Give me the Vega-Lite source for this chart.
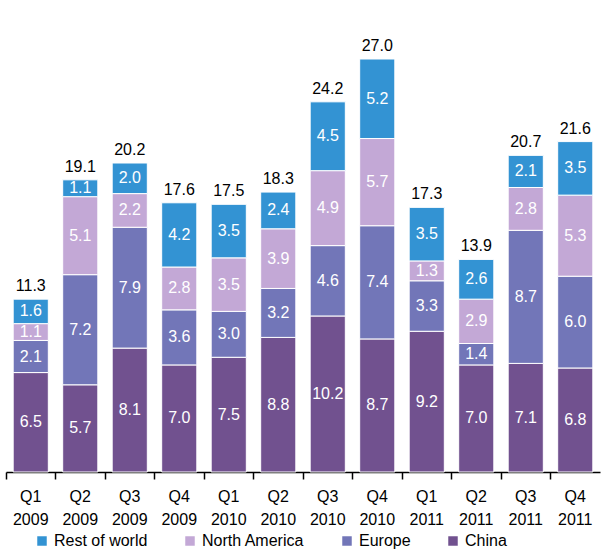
{
  "$schema": "https://vega.github.io/schema/vega-lite/v6.json",
  "width": 594,
  "height": 413,
  "autosize": {"type": "none"},
  "padding": {"left": 6, "top": 59, "right": 12, "bottom": 85},
  "background": "white",
  "config": {
    "view": {"stroke": null},
    "font": "Liberation Sans",
    "text": {"font": "Liberation Sans"}
  },
  "data": {
    "values": [
      {"q": "Q1 2009", "region": "China", "v": 6.5}, {"q": "Q1 2009", "region": "Europe", "v": 2.1}, {"q": "Q1 2009", "region": "North America", "v": 1.1}, {"q": "Q1 2009", "region": "Rest of world", "v": 1.6},
      {"q": "Q2 2009", "region": "China", "v": 5.7}, {"q": "Q2 2009", "region": "Europe", "v": 7.2}, {"q": "Q2 2009", "region": "North America", "v": 5.1}, {"q": "Q2 2009", "region": "Rest of world", "v": 1.1},
      {"q": "Q3 2009", "region": "China", "v": 8.1}, {"q": "Q3 2009", "region": "Europe", "v": 7.9}, {"q": "Q3 2009", "region": "North America", "v": 2.2}, {"q": "Q3 2009", "region": "Rest of world", "v": 2.0},
      {"q": "Q4 2009", "region": "China", "v": 7.0}, {"q": "Q4 2009", "region": "Europe", "v": 3.6}, {"q": "Q4 2009", "region": "North America", "v": 2.8}, {"q": "Q4 2009", "region": "Rest of world", "v": 4.2},
      {"q": "Q1 2010", "region": "China", "v": 7.5}, {"q": "Q1 2010", "region": "Europe", "v": 3.0}, {"q": "Q1 2010", "region": "North America", "v": 3.5}, {"q": "Q1 2010", "region": "Rest of world", "v": 3.5},
      {"q": "Q2 2010", "region": "China", "v": 8.8}, {"q": "Q2 2010", "region": "Europe", "v": 3.2}, {"q": "Q2 2010", "region": "North America", "v": 3.9}, {"q": "Q2 2010", "region": "Rest of world", "v": 2.4},
      {"q": "Q3 2010", "region": "China", "v": 10.2}, {"q": "Q3 2010", "region": "Europe", "v": 4.6}, {"q": "Q3 2010", "region": "North America", "v": 4.9}, {"q": "Q3 2010", "region": "Rest of world", "v": 4.5},
      {"q": "Q4 2010", "region": "China", "v": 8.7}, {"q": "Q4 2010", "region": "Europe", "v": 7.4}, {"q": "Q4 2010", "region": "North America", "v": 5.7}, {"q": "Q4 2010", "region": "Rest of world", "v": 5.2},
      {"q": "Q1 2011", "region": "China", "v": 9.2}, {"q": "Q1 2011", "region": "Europe", "v": 3.3}, {"q": "Q1 2011", "region": "North America", "v": 1.3}, {"q": "Q1 2011", "region": "Rest of world", "v": 3.5},
      {"q": "Q2 2011", "region": "China", "v": 7.0}, {"q": "Q2 2011", "region": "Europe", "v": 1.4}, {"q": "Q2 2011", "region": "North America", "v": 2.9}, {"q": "Q2 2011", "region": "Rest of world", "v": 2.6},
      {"q": "Q3 2011", "region": "China", "v": 7.1}, {"q": "Q3 2011", "region": "Europe", "v": 8.7}, {"q": "Q3 2011", "region": "North America", "v": 2.8}, {"q": "Q3 2011", "region": "Rest of world", "v": 2.1},
      {"q": "Q4 2011", "region": "China", "v": 6.8}, {"q": "Q4 2011", "region": "Europe", "v": 6.0}, {"q": "Q4 2011", "region": "North America", "v": 5.3}, {"q": "Q4 2011", "region": "Rest of world", "v": 3.5}
    ]
  },
  "encoding": {
    "x": {
      "field": "q",
      "type": "nominal",
      "sort": null,
      "scale": {"paddingInner": 0, "paddingOuter": 0},
      "axis": {
        "title": null,
        "labelAngle": 0,
        "labelExpr": "split(datum.label, ' ')",
        "labelFontSize": 16,
        "labelColor": "black",
        "labelFont": "Liberation Sans",
        "labelLineHeight": 23,
        "labelPadding": 9,
        "bandPosition": 0,
        "tickSize": 7,
        "tickColor": "black",
        "tickWidth": 1.5,
        "domainColor": "black",
        "domainWidth": 1.5,
        "grid": false
      }
    }
  },
  "layer": [
    {
      "transform": [
        {"stack": "v", "groupby": ["q"], "sort": [{"field": "region", "order": "ascending"}], "as": ["v0", "v1"]},
        {"calculate": "(datum.v0 + datum.v1) / 2", "as": "mid"}
      ],
      "layer": [
        {
          "mark": {"type": "bar", "width": {"band": 0.71}, "stroke": "white", "strokeWidth": 1},
          "encoding": {
            "y": {"field": "v0", "type": "quantitative", "scale": {"domain": [0, 27], "nice": false, "zero": true}, "axis": null},
            "y2": {"field": "v1"},
            "color": {
              "field": "region",
              "type": "nominal",
              "scale": {
                "domain": ["Rest of world", "North America", "Europe", "China"],
                "range": ["#3393D3", "#C3A8D6", "#7276B8", "#71518F"]
              },
              "legend": {
                "title": null,
                "orient": "none",
                "direction": "horizontal",
                "legendX": 28,
                "legendY": 474,
                "symbolType": "square",
                "symbolSize": 90,
                "symbolStrokeWidth": 0,
                "labelFontSize": 16,
                "labelFont": "Liberation Sans",
                "labelColor": "black",
                "labelOffset": 4,
                "columnPadding": 34
              }
            }
          }
        },
        {
          "mark": {"type": "text", "color": "white", "fontSize": 16, "baseline": "middle", "align": "center"},
          "encoding": {
            "y": {"field": "mid", "type": "quantitative"},
            "text": {"field": "v", "type": "quantitative", "format": ".1f"}
          }
        }
      ]
    },
    {
      "transform": [
        {"aggregate": [{"op": "sum", "field": "v", "as": "total"}], "groupby": ["q"]}
      ],
      "mark": {"type": "text", "color": "black", "fontSize": 16, "baseline": "bottom", "align": "center", "dy": -5},
      "encoding": {
        "y": {"field": "total", "type": "quantitative"},
        "text": {"field": "total", "type": "quantitative", "format": ".1f"}
      }
    }
  ]
}
